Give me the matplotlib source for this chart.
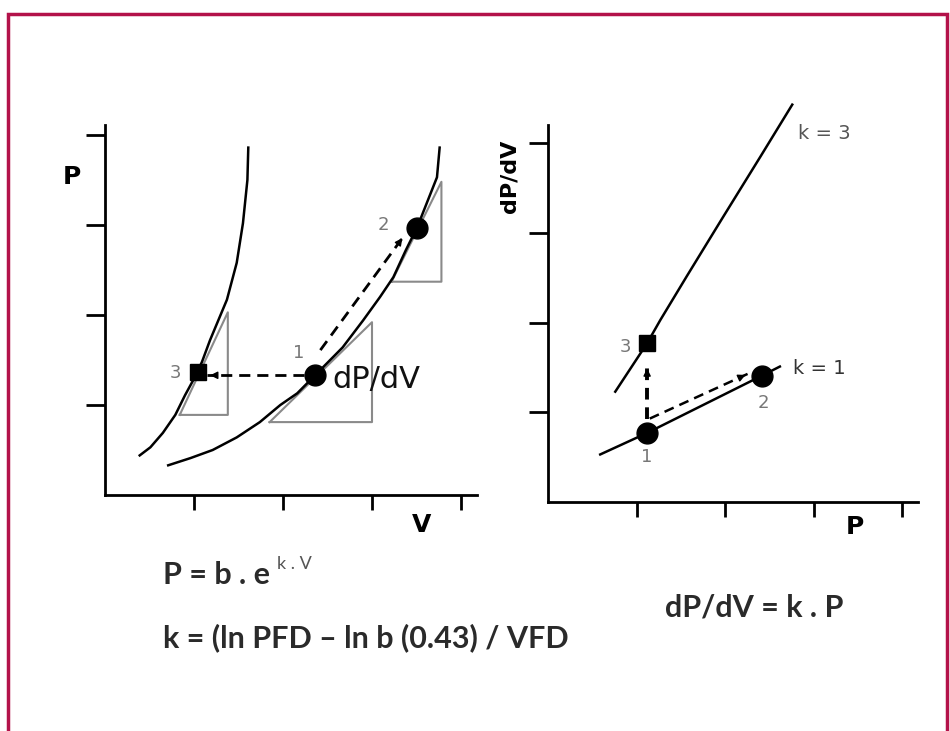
import numpy as np
import matplotlib
matplotlib.use('Agg')
import matplotlib.pyplot as plt
from matplotlib.patches import Rectangle

# courbes pression-volume
V_k3 = [0.39, 0.51, 0.65, 0.79, 0.90, 1.01, 1.09, 1.18, 1.37, 1.48, 1.55, 1.60, 1.61]
P_k3 = [0.44, 0.53, 0.69, 0.89, 1.11, 1.31, 1.48, 1.72, 2.17, 2.58, 3.02, 3.50, 3.86]
V_k1 = [0.71, 0.96, 1.21, 1.48, 1.74, 1.97, 2.16, 2.36, 2.67, 2.90, 3.09, 3.24, 3.38,
        3.51, 3.63, 3.73, 3.76]
P_k1 = [0.33, 0.41, 0.50, 0.64, 0.81, 1.00, 1.13, 1.33, 1.64, 1.94, 2.20, 2.42, 2.72,
        2.98, 3.28, 3.53, 3.86]

# points 1, 2, 3
pts_PV = {'1': (2.36, 1.33), '2': (3.51, 2.97), '3': (1.04, 1.37)}
lab_PV = {'1': (2.18, 1.58), '2': (3.13, 3.0), '3': (0.79, 1.36)}

# triangles des pentes
tri_V = [[0.84, 1.38, 1.38], [1.85, 3.0, 3.0], [3.22, 3.78, 3.78]]
tri_P = [[0.89, 0.89, 2.03], [0.81, 0.81, 1.92], [2.37, 2.37, 3.48]]

# droites dP/dV = k.P
Pk3 = [0.76, 1.12, 1.27, 1.57, 1.98, 2.40, 2.76]
dPk3 = [1.23, 1.77, 2.03, 2.52, 3.18, 3.85, 4.43]
Pk1 = [0.59, 1.12, 2.40, 2.62]
dPk1 = [0.53, 0.77, 1.40, 1.51]
pts_dP = {'1': (1.12, 0.77), '2': (2.42, 1.40), '3': (1.12, 1.77)}
lab_dP = {'1': (1.12, 0.50), '2': (2.43, 1.10), '3': (0.88, 1.73)}

ticks = [1, 2, 3, 4]
gris = '#8a8a8a'
bordeaux = '#b3124a'

fig = plt.figure(figsize=(9.5, 7.31), dpi=100)
W, H = 950., 731.

def axes_px(x0, y0, ux, uy, xmax, ymax):
    # axe place en pixels : origine (x0,y0), unites ux, uy
    ax = fig.add_axes([x0/W, 1 - y0/H, ux*xmax/W, uy*ymax/H])
    ax.set_xlim(0, xmax)
    ax.set_ylim(0, ymax)
    ax.patch.set_alpha(0)
    for s in ['top', 'right']:
        ax.spines[s].set_visible(False)
    for s in ['left', 'bottom']:
        ax.spines[s].set_linewidth(2)
    ax.set_xticks(ticks)
    ax.set_yticks(ticks)
    ax.set_xticklabels([])
    ax.set_yticklabels([])
    ax.tick_params(axis='y', length=14, width=2, direction='out')
    ax.tick_params(axis='x', length=11, width=2, direction='out')
    return ax

def fleche(ax, a, b, lw=2, dash=(4, 2.5)):
    a = np.array(a); b = np.array(b)
    ax.plot([a[0], b[0]], [a[1], b[1]], color='k', lw=lw, linestyle=(0, dash))
    c = b - 0.12*(b - a)/np.linalg.norm(b - a)
    ax.annotate('', xy=b, xytext=c,
                arrowprops=dict(arrowstyle='-|>', color='k', lw=1, mutation_scale=11))

# ---- panneau P / V
ax1 = axes_px(105, 495, 89, 90, 4.6, 4.5)
ax1.spines['bottom'].set_bounds(0, 4.18)
ax1.spines['left'].set_bounds(0, 4.11)
for tv, tp in zip(tri_V, tri_P):
    ax1.plot(tv + [tv[0]], tp + [tp[0]], color=gris, lw=1.5)
ax1.plot(V_k3, P_k3, color='k', lw=1.8)
ax1.plot(V_k1, P_k1, color='k', lw=1.8)
fleche(ax1, (2.24, 1.33), (1.15, 1.33))
fleche(ax1, (2.42, 1.61), (3.36, 2.88))
ax1.plot(*pts_PV['1'], 'o', color='k', ms=15)
ax1.plot(*pts_PV['2'], 'o', color='k', ms=15)
ax1.plot(*pts_PV['3'], 's', color='k', ms=11)
for k in lab_PV:
    ax1.text(*lab_PV[k], k, color='#777777', fontsize=13, ha='center', va='center')
ax1.text(2.56, 1.28, 'dP/dV', fontsize=22, color='#111111', va='center')
ax1.text(-0.37, 3.53, 'P', fontsize=18, fontweight='bold', ha='center', va='center')
ax1.text(3.56, -0.33, 'V', fontsize=18, fontweight='bold', ha='center', va='center')

# ---- panneau dP/dV / P
ax2 = axes_px(548, 502, 88.5, 89.7, 4.3, 4.5)
ax2.spines['bottom'].set_bounds(0, 4.18)
ax2.spines['left'].set_bounds(0, 4.2)
ax2.plot(Pk3, dPk3, color='k', lw=1.8, clip_on=False)
ax2.plot(Pk1, dPk1, color='k', lw=1.8)
fleche(ax2, (1.12, 0.92), (1.12, 1.52), lw=2.8, dash=(3, 2))
fleche(ax2, (1.15, 0.93), (2.26, 1.43), lw=1.8)
ax2.plot(*pts_dP['1'], 'o', color='k', ms=15)
ax2.plot(*pts_dP['2'], 'o', color='k', ms=15)
ax2.plot(*pts_dP['3'], 's', color='k', ms=11)
for k in lab_dP:
    ax2.text(*lab_dP[k], k, color='#777777', fontsize=13, ha='center', va='center')
ax2.text(2.82, 4.11, 'k = 3', color='#555555', fontsize=14, va='center')
ax2.text(2.77, 1.49, 'k = 1', color='#333333', fontsize=14, va='center')
ax2.text(-0.43, 3.63, 'dP/dV', fontsize=16, fontweight='bold', rotation=90,
         ha='center', va='center')
ax2.text(3.47, -0.28, 'P', fontsize=18, fontweight='bold', ha='center', va='center')

# ---- equations
police = ['Lato', 'DejaVu Sans']
t1 = fig.text(163/W, 1 - 575/H, 'P = b . e', fontsize=22, family=police,
              fontweight='bold', color='#2a2a2a', va='center')
plt.annotate('k . V', xy=(1, 0.6), xycoords=t1, xytext=(5, 0), textcoords='offset points',
             fontsize=13, family=police, color='#555555', va='bottom')
fig.text(665/W, 1 - 608/H, 'dP/dV = k . P', fontsize=22, family=police,
         fontweight='bold', color='#2a2a2a', va='center')
fig.text(163/W, 1 - 638/H, 'k = (ln PFD \u2013 ln b (0.43) / VFD', fontsize=22,
         family=police, fontweight='bold', color='#2a2a2a', va='center')

# ---- cadre
fig.patches.append(Rectangle((8/W, -0.05), 939/W, 1.05 - 14/H, transform=fig.transFigure,
                             fill=False, edgecolor=bordeaux, lw=2.5))

plt.savefig('out.png', dpi=100)
